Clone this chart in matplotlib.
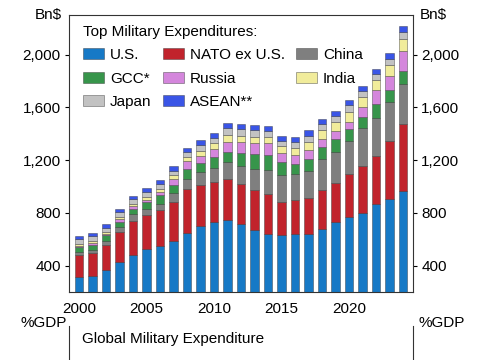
import matplotlib.pyplot as plt
import numpy as np

plt.rcParams['font.family'] = ['Liberation Sans', 'DejaVu Sans']
plt.rcParams['font.size'] = 11

# ----------------------------------------------------------------
# Dados (Bn$, nominal)
years = np.arange(2000, 2025)
us     = [316, 324, 367, 430, 482, 527, 552, 583, 649, 699, 730, 748, 718,
          672, 641, 629, 636, 641, 674, 730, 768, 798, 870, 908, 962]
nato   = [167, 170, 191, 224, 256, 254, 267, 300, 330, 311, 305, 307, 299,
          299, 300, 253, 259, 275, 303, 297, 325, 359, 360, 437, 512]
china  = [17, 26, 32, 38, 51, 50, 51, 64, 81, 101, 102, 127, 137,
          158, 183, 204, 196, 202, 228, 236, 254, 284, 288, 292, 305]
gcc    = [38, 38, 39, 38, 43, 48, 63, 64, 69, 64, 88, 81, 102,
          114, 114, 101, 79, 87, 96, 97, 87, 89, 109, 91, 99]
russia = [13, 12, 12, 20, 18, 20, 25, 43, 63, 55, 57, 77, 84,
          90, 95, 69, 68, 71, 59, 61, 58, 72, 106, 112, 147]
india  = [13, 15, 13, 20, 20, 20, 26, 33, 29, 41, 51, 51, 44,
          45, 45, 51, 56, 64, 69, 71, 76, 73, 77, 84, 94]
japan  = [38, 36, 33, 33, 33, 36, 38, 30, 38, 43, 37, 55, 52,
          51, 45, 40, 46, 44, 45, 43, 46, 51, 43, 45, 51]
asean  = [26, 25, 25, 28, 28, 30, 26, 38, 35, 38, 38, 38, 36,
          38, 38, 38, 38, 45, 41, 41, 38, 38, 38, 46, 46]

series = [us, nato, china, gcc, russia, india, japan, asean]
labels = ['U.S.', 'NATO ex U.S.', 'China', 'GCC*', 'Russia', 'India',
          'Japan', 'ASEAN**']
colors = ['#1679c6', '#c1232c', '#7f7f7f', '#37954b', '#d486dc',
          '#f1ec9b', '#c2c2c2', '#3a55e6']

# ----------------------------------------------------------------
fig = plt.figure(figsize=(4.85, 3.6), dpi=100)
ax = fig.add_axes([0.1423, 0.1889, 0.7093, 0.7694])

bottom = np.zeros(len(years))
bars = []
for vals, lab, col in zip(series, labels, colors):
    b = ax.bar(years, vals, 0.62, bottom=bottom, color=col, label=lab,
               edgecolor=(0.15, 0.15, 0.15, 0.6), linewidth=0.45)
    bars.append(b)
    bottom = bottom + np.array(vals)

ax.set_xlim(1999.25, 2024.75)
ax.set_ylim(200, 2300)
ax.set_yticks([400, 800, 1200, 1600, 2000])
ax.set_yticklabels(['400', '800', '1,200', '1,600', '2,000'])
ax.set_xticks([2000, 2005, 2010, 2015, 2020])
ax.tick_params(axis='x', length=0, pad=7)
ax.tick_params(axis='y', direction='out', length=3, pad=3,
               right=True, labelright=True)
for s in ax.spines.values():
    s.set_linewidth(0.8)
    s.set_color('#333333')

ax.text(-0.02, 1.0, 'Bn$', transform=ax.transAxes, ha='right', va='center')
ax.text(1.02, 1.0, 'Bn$', transform=ax.transAxes, ha='left', va='center')

# legenda em 3 colunas (preenchida por coluna)
ordem = [0, 3, 6, 1, 4, 7, 2, 5]
leg = ax.legend([bars[i] for i in ordem], [labels[i] for i in ordem],
                ncol=3, loc='upper left', bbox_to_anchor=(0.042, 0.965),
                frameon=False, title='Top Military Expenditures:',
                title_fontsize=11, alignment='left', handlelength=1.35,
                handleheight=0.75, handletextpad=0.4, columnspacing=0.75,
                labelspacing=0.62, borderaxespad=0, borderpad=0)

# ----------------------------------------------------------------
# painel inferior (cortado)
ax2 = fig.add_axes([0.1423, -0.6, 0.7093, 0.6944])
ax2.spines['top'].set_visible(False)
ax2.spines['bottom'].set_visible(False)
for s in ['left', 'right']:
    ax2.spines[s].set_linewidth(0.8)
    ax2.spines[s].set_color('#333333')
ax2.set_xticks([])
ax2.set_yticks([])
ax2.patch.set_alpha(0)
fig.text(0.1423 - 0.005, 1 - 323 / 360, '%GDP', ha='right', va='center')
fig.text(0.8515 + 0.012, 1 - 323 / 360, '%GDP', ha='left', va='center')
fig.text(82 / 485, 1 - 339 / 360, 'Global Military Expenditure',
         ha='left', va='center')

fig.savefig('out.png', dpi=100)
